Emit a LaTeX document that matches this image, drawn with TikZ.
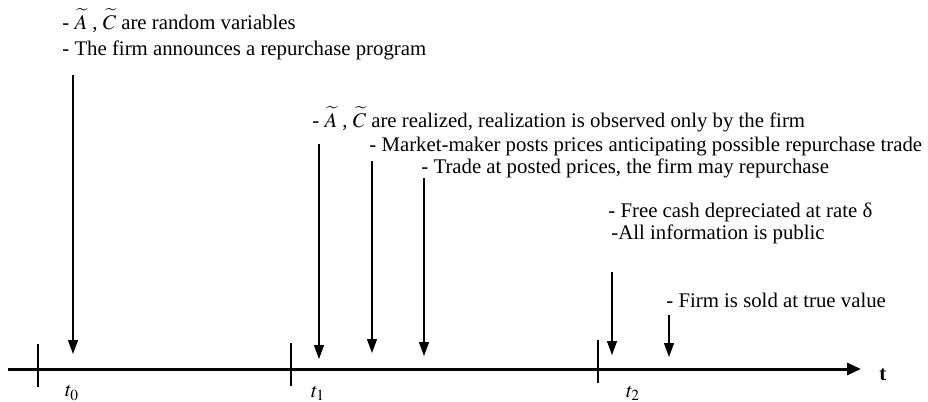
\documentclass[tikz,border=0pt]{standalone}
\usepackage{mathptmx}
\usepackage{fontspec}
\setmainfont{Liberation Serif}
\usetikzlibrary{arrows.meta,positioning}

\begin{document}
\begin{tikzpicture}[
  x=0.5pt, y=-0.5pt,
  txt/.style={anchor=base west, inner sep=0pt, font=\fontsize{10.4}{12}\selectfont},
  tlbl/.style={anchor=center, inner sep=0pt, font=\fontsize{10.4}{12}\selectfont},
  axis/.style={line width=1.5pt, -{Triangle[length=7pt, width=6pt]}},
  tick/.style={line width=0.7pt},
  ev/.style={line width=0.65pt, -{Triangle[length=7pt, width=5pt]}}
]
  \useasboundingbox (0,0) rectangle (928,402);

  % texts
  \node[txt] (rv)   at (62,29)  {- $\widetilde{A}$ , $\widetilde{C}$ are random variables};
  \node[txt] (ann)  at (62,55)  {- The firm announces a repurchase program};
  \node[txt] (real) at (312,127) {- $\widetilde{A}$ , $\widetilde{C}$ are realized, realization is observed only by the firm};
  \node[txt] (mm)   at (369,151) {- Market-maker posts prices anticipating possible repurchase trade};
  \node[txt] (trd)  at (421,173) {- Trade at posted prices, the firm may repurchase};
  \node[txt] (cash) at (608,217) {- Free cash depreciated at rate δ};
  \node[txt] (pub)  at (611,239) {-All information is public};
  \node[txt] (sold) at (666,307) {- Firm is sold at true value};

  % time axis
  \coordinate (ax0) at (8,369);
  \coordinate (ax1) at (861,369);
  \draw[axis] (ax0) -- (ax1);
  \node[tlbl, right=9pt of ax1, yshift=-3pt] (t) {\textbf{t}};

  \foreach \n/\x/\a/\b in {0/38/344/387, 1/291/343/386, 2/598/340/383}{
    \coordinate (k\n a) at (\x,\a);
    \coordinate (k\n b) at (\x,\b);
    \draw[tick] (k\n a) -- (k\n b);
  }
  \node[tlbl] (t0) at (72,393) {$t_0$};
  \node[tlbl] (t1) at (318,393) {$t_1$};
  \node[tlbl] (t2) at (633,393) {$t_2$};

  % events
  \foreach \n/\x/\a/\b in {1/73/75/354, 2/319/144/359, 3/372/161/353,
                           4/424/178/356, 5/612/272/355, 6/669/315/357}{
    \coordinate (s\n) at (\x,\a);
    \coordinate (e\n) at (\x,\b);
    \draw[ev] (s\n) -- (e\n);
  }
\end{tikzpicture}
\end{document}
